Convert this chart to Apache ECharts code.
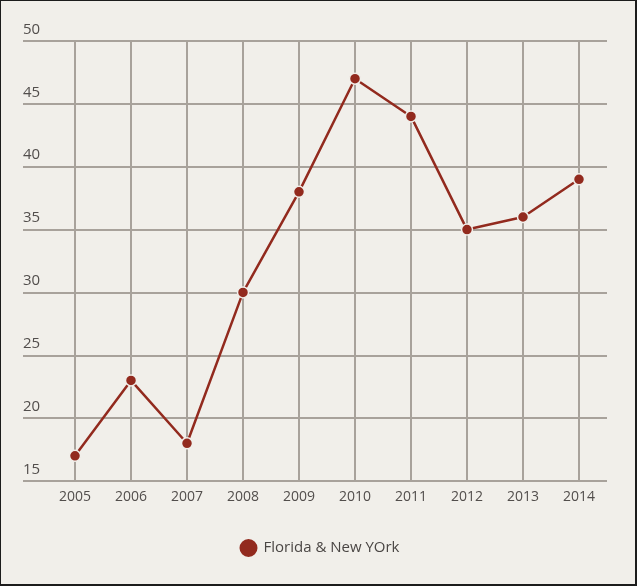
<!DOCTYPE html>
<html>
<head>
<meta charset="utf-8">
<script src="https://cdn.jsdelivr.net/npm/echarts@6/dist/echarts.min.js"></script>
<style>
  html, body { margin: 0; padding: 0; background: #f1efea; }
  #frame {
    width: 637px; height: 586px; box-sizing: border-box;
    border-style: solid; border-color: #1c1c1c;
    border-width: 1px 2px 2px 1px;
    background: #f1efea; position: relative;
  }
  #chart { position: absolute; left: -1px; top: -1px; width: 637px; height: 586px; }
</style>
</head>
<body>
<div id="frame"><div id="chart"></div></div>
<script>
const years = ['2005', '2006', '2007', '2008', '2009', '2010', '2011', '2012', '2013', '2014'];
const values = [17, 23, 18, 30, 38, 47, 44, 35, 36, 39];
const seriesName = 'Florida & New YOrk';
const yMin = 15;
const yMax = 50;
const yStep = 5;

const font = '"Open Sans", "Noto Sans", sans-serif';
const gridColor = '#a8a29b';
const red = '#922a1e';

const chart = echarts.init(document.getElementById('chart'), null, { renderer: 'canvas' });

chart.setOption({
  backgroundColor: 'transparent',
  animation: false,
  textStyle: { fontFamily: font },
  // grid 0 carries the wide horizontal lines, grid 1 carries the series
  grid: [
    { left: 23, right: 30, top: 41, bottom: 105 },
    { left: 75, right: 58, top: 41, bottom: 105 }
  ],
  legend: {
    data: [seriesName],
    left: 'center',
    top: 532,
    icon: 'circle',
    itemWidth: 20,
    itemHeight: 20,
    itemGap: 12,
    textStyle: { fontFamily: font, fontSize: 15, color: '#4a4644' }
  },
  xAxis: [
    {
      gridIndex: 0, type: 'category', data: years, show: false
    },
    {
      gridIndex: 1,
      type: 'category',
      data: years,
      boundaryGap: false,
      axisLine: { show: false },
      axisTick: { show: false },
      axisLabel: { margin: 9, fontSize: 14, color: '#524e4c', fontFamily: font },
      splitLine: { show: true, lineStyle: { color: gridColor, width: 2 } }
    }
  ],
  yAxis: [
    {
      gridIndex: 0,
      type: 'value',
      min: yMin,
      max: yMax,
      interval: yStep,
      axisLine: { show: false },
      axisTick: { show: false },
      axisLabel: {
        inside: true,
        margin: 0,
        verticalAlign: 'bottom',
        padding: [0, 0, 4, 0],
        fontSize: 15,
        color: '#524e4c',
        fontFamily: font
      },
      splitLine: { show: true, lineStyle: { color: gridColor, width: 2 } }
    },
    {
      gridIndex: 1, type: 'value', min: yMin, max: yMax, interval: yStep, show: false,
      splitLine: { show: false }
    }
  ],
  series: [
    {
      name: seriesName,
      type: 'line',
      xAxisIndex: 1,
      yAxisIndex: 1,
      data: values,
      symbol: 'circle',
      symbolSize: 11,
      lineStyle: { color: red, width: 2.5 },
      itemStyle: { color: red, borderColor: '#f1efea', borderWidth: 1.5 }
    }
  ]
});
</script>
</body>
</html>
